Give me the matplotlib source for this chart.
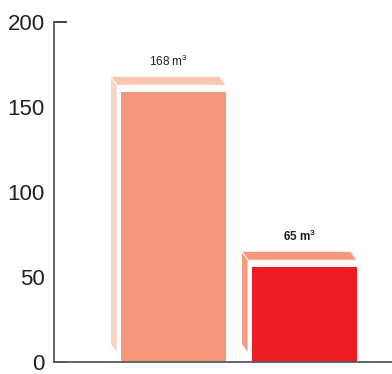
import matplotlib
matplotlib.use("Agg")
import matplotlib.pyplot as plt
from matplotlib.patches import Polygon

plt.rcParams["font.family"] = ["Liberation Sans", "DejaVu Sans"]
plt.rcParams["mathtext.fontset"] = "custom"
plt.rcParams["mathtext.rm"] = "Liberation Sans"
plt.rcParams["mathtext.bf"] = "Liberation Sans:bold"

# Data
categories = ["A", "B"]
values = [168, 65]
value_labels = [r"168 m$^{\mathrm{3}}$", r"65 m$^{\mathbf{3}}$"]
label_bold = [False, True]
y_ticks = [0, 50, 100, 150, 200]

# Face colours per bar: front, top, side
front_colors = ["#f4977a", "#ed1c24"]
top_colors = ["#fcc7b1", "#f4977a"]
side_colors = ["#fdd3c2", "#f59d80"]

TEXT = "#231f20"
AXIS = "#58595b"

fig = plt.figure(figsize=(3.92, 3.74), dpi=100)
ax = fig.add_axes([54 / 392, (374 - 361.7) / 374, 338 / 392, (361.7 - 22) / 374])

xs = list(range(len(categories)))
width = 0.832      # box width in category units
dx = -0.05         # depth offset (horizontal)
dy = 5.2           # depth offset (vertical, data units)
gap_x = 0.028      # white gap between side and front face
gap_y = 4.2        # white gap between top and front face

for x, v, fc, tc, sc, lab, bold in zip(xs, values, front_colors, top_colors,
                                       side_colors, value_labels, label_bold):
    x0 = x - width / 2
    x1 = x + width / 2
    h = v - dy
    # top face
    ax.add_patch(Polygon([(x0, h), (x1, h), (x1 + dx, v), (x0 + dx, v)],
                         closed=True, facecolor=tc, edgecolor="white", lw=0.6))
    # side face
    ax.add_patch(Polygon([(x0, dy), (x0, h), (x0 + dx, v), (x0 + dx, 2 * dy)],
                         closed=True, facecolor=sc, edgecolor="white", lw=0.6))
    # front face
    ax.add_patch(Polygon([(x0 + gap_x, 0), (x1, 0), (x1, h - gap_y), (x0 + gap_x, h - gap_y)],
                         closed=True, facecolor=fc, edgecolor="none"))
    ax.text(x + dx / 2, v + 4.5, lab, ha="center", va="bottom", fontsize=8.5,
            color=TEXT, fontweight="bold" if bold else "normal")

ax.set_xlim(-0.897, 1.683)
ax.set_ylim(0, 200)
ax.set_yticks(y_ticks)
ax.set_yticklabels([str(t) for t in y_ticks])
ax.tick_params(axis="y", length=0, pad=6.5, labelsize=16, labelcolor=TEXT)
ax.set_xticks([])

for side in ("top", "right"):
    ax.spines[side].set_visible(False)
for side in ("left", "bottom"):
    ax.spines[side].set_color(AXIS)
    ax.spines[side].set_linewidth(1.3)

# short inward ticks at the ends of the value axis
for t in (0, 200):
    ax.axhline(t, xmin=0, xmax=12 / 338, color="#333333", lw=1.3, clip_on=False)

fig.savefig("out.png", dpi=100)
